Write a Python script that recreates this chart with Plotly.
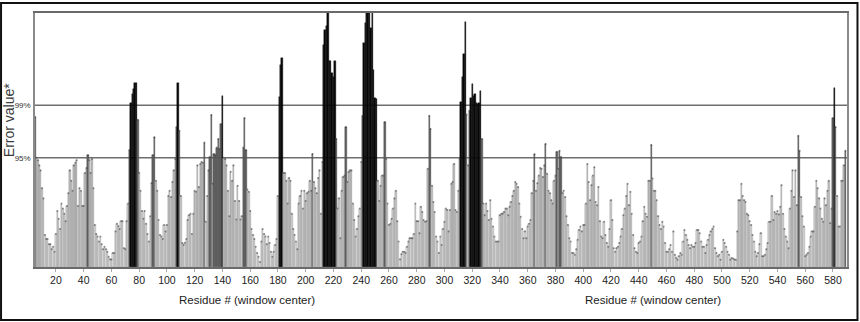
import plotly.graph_objects as go

# ---- data ----
first_residue = 5
error_values = [
    59, 43, 42, 40, 38, 31, 27, 12.6, 11, 11,
    9, 9, 7, 8, 6, 13, 22, 19, 15, 25,
    23, 21, 18, 24, 29, 38, 34, 30, 40, 41,
    42, 24, 31, 30, 24, 24, 37, 39, 44, 42,
    37, 42.5, 31, 16.5, 13, 12, 10, 12, 9, 7,
    8, 7, 6, 4, 3, 3, 5.5, 5.5, 14, 17,
    16, 15, 18, 18, 7.4, 7, 18, 25, 46, 64.5,
    68, 70, 72.5, 72.5, 58, 37, 30, 22, 19, 22,
    17, 13, 10, 20, 33, 44, 51, 34, 30, 18.5,
    12.6, 12, 11, 16.5, 14, 16.5, 28, 30, 27.6, 33.5,
    38, 42.5, 55, 72.5, 53.6, 28, 9.4, 8.7, 9.5, 11,
    18.5, 20.4, 21, 13, 21, 30, 29.6, 40, 31.5, 40.6,
    41.3, 41, 49, 17.8, 28, 38, 43.2, 59.8, 32.8, 44.5,
    43.9, 47, 50.4, 46.5, 56.2, 67.3, 43, 42.5, 40, 30,
    20, 37.5, 34, 40, 26, 18.7, 32, 26, 18.7, 20,
    47, 58.6, 46, 30.5, 29.6, 22, 15, 12.6, 11, 8,
    5.5, 4, 2, 10, 15, 13, 12, 9, 12, 9.4,
    6, 4, 6, 8.7, 11, 28, 67, 79.6, 82.4, 37,
    37, 34, 25, 35, 34, 21, 15, 12.6, 10, 7,
    25, 28, 30, 23, 30, 26, 29, 29.6, 34, 30,
    44.5, 33.5, 31, 29, 35, 38, 21, 41.3, 87.5, 93.4,
    95, 104, 81, 81, 76.4, 75, 81, 50.4, 23, 27,
    11.3, 30, 35.4, 36, 55, 33.5, 37.4, 38, 38, 25,
    18.5, 12, 15, 20, 23, 41.3, 59.5, 88, 96, 104,
    104, 104, 94, 104, 77.7, 66.7, 66, 34, 26, 32,
    36, 36, 57, 42.5, 25, 16.5, 17, 19, 23, 27,
    30, 18, 10, 3, 5, 6, 6, 5.5, 8, 10,
    11.3, 11.3, 11.3, 13, 25, 18, 18, 13.3, 23.7, 21.7,
    18.5, 17.8, 18, 38.7, 59.5, 54.3, 32, 25.6, 21.7, 12,
    10, 5.5, 12, 8.7, 15, 17.8, 23, 22.4, 14, 22.4,
    32.8, 33.5, 40.6, 22.4, 21.7, 30, 42.5, 65, 75, 84,
    96.6, 60, 40, 61.5, 66.7, 72, 67.3, 68, 64.5, 64,
    64.5, 69.3, 50.4, 25, 20.4, 25, 22, 18.5, 26.3, 19,
    15.9, 12, 10, 10, 10, 20.4, 21, 21, 21.7, 23,
    23, 20.4, 23.7, 25.6, 28, 30, 33.5, 32.8, 31.5, 25,
    19.8, 15, 11.3, 14, 11.3, 15.9, 17, 18.5, 29, 34,
    44.3, 30, 33, 36, 39, 38.7, 35.4, 40, 48.4, 36.7,
    30, 29, 26.3, 25, 34, 36, 45.4, 38.7, 45.8, 43.2,
    29, 30, 27.6, 20, 16.5, 11.3, 10, 5.5, 5.5, 4.8,
    7, 10.7, 14.6, 15.9, 14, 16.5, 16.5, 25, 40.6, 33.5,
    26.3, 32.2, 36, 39.3, 25.6, 24.3, 31.5, 18, 12, 11.3,
    17.8, 12.6, 9.4, 8, 15, 26.3, 18.5, 7.4, 6, 7.4,
    8, 9.4, 12, 15, 20.4, 23, 28, 32.8, 24.3, 29.6,
    21, 12.6, 7.4, 6, 5.5, 9.4, 10, 12, 18, 23.7,
    21, 19.8, 34, 34, 48, 34.8, 30, 30, 26.3, 20,
    16.5, 15, 17.8, 15.9, 9.4, 6, 6, 7, 8.7, 6,
    14, 4.8, 3.5, 2.9, 4.2, 5.5, 4.8, 10, 14.6, 12.6,
    10.7, 8.7, 7.4, 8.7, 8, 8, 9.4, 14.6, 14.6, 13.3,
    10, 8, 8, 5.5, 8.7, 10.7, 12.6, 14, 15, 15.9,
    7.4, 5.5, 4.2, 4.8, 2.9, 6, 10.7, 9.4, 8, 6,
    4.8, 2.9, 3.5, 3.3, 3, 2.9, 14, 26.3, 26.3, 32.8,
    28, 26.3, 25.6, 21, 20.4, 18, 16.5, 12.6, 10, 6,
    4.2, 5.5, 9, 13.3, 4.2, 4.2, 4.8, 7, 9.4, 17.8,
    17.8, 28, 18.5, 21.7, 21, 22, 20.7, 23.7, 32.2, 21,
    15, 12, 10, 7.4, 23, 30, 38, 27.6, 38, 24.3,
    51.7, 45.8, 27.6, 20, 15.9, 4.2, 4.8, 5.5, 8, 12,
    14, 14, 23.7, 34, 31, 27, 23, 19, 17.8, 27,
    24.3, 30, 34, 17.2, 23, 58.6, 70.6, 55, 28, 15.9,
    15.9, 34, 34, 40, 45.8,
]
residues = list(range(first_residue, first_residue + len(error_values)))

threshold_95 = 43.0
threshold_99 = 63.7
threshold_labels = ["95%", "99%"]
x_tick_values = list(range(20, 600, 20))
x_title = "Residue # (window center)"
y_title = "Error value*"

# ---- styling derived from values ----
fill_colors, line_colors = [], []
for v in error_values:
    if v > threshold_99:
        fill_colors.append("#080808"); line_colors.append("#080808")
    elif v > threshold_95:
        fill_colors.append("#606060"); line_colors.append("#4a4a4a")
    else:
        g = int(round(228 - 1.15 * v))
        fill_colors.append(f"rgb({g},{g},{g})"); line_colors.append("#9a9a9a")

dot_x = [r for r, v in zip(residues, error_values) if v <= threshold_99]
dot_y = [v for v in error_values if v <= threshold_99]

fig = go.Figure()
fig.add_trace(go.Bar(
    x=residues, y=error_values,
    marker=dict(color=fill_colors, line=dict(color=line_colors, width=0.4)),
    width=1.0, showlegend=False, hoverinfo="x+y",
))
fig.add_trace(go.Scatter(
    x=dot_x, y=dot_y, mode="markers",
    marker=dict(size=2, color="#3a3a3a", opacity=0.5),
    showlegend=False, hoverinfo="skip",
))

W, H = 860, 322
L, R, T, B = 35, 12, 11, 55
pw, ph = W - L - R, H - T - B

def px_x(p):
    return (p - L) / pw

def px_y(p):
    return (H - B - p) / ph

sans = "Liberation Sans, Arial, sans-serif"

shapes = [
    dict(type="line", xref="paper", yref="y", x0=0, x1=1, y0=threshold_95, y1=threshold_95,
         line=dict(color="#6e6e6e", width=1.5), layer="below"),
    dict(type="line", xref="paper", yref="y", x0=0, x1=1, y0=threshold_99, y1=threshold_99,
         line=dict(color="#6e6e6e", width=1.5), layer="below"),
    dict(type="rect", xref="paper", yref="paper",
         x0=px_x(1), x1=px_x(858.5), y0=px_y(320.5), y1=px_y(1),
         line=dict(color="#111111", width=2), fillcolor="rgba(0,0,0,0)", layer="above"),
]

annotations = [
    dict(text=y_title, xref="paper", yref="paper", x=px_x(9), y=px_y(119),
         textangle=-90, showarrow=False, xanchor="center", yanchor="middle",
         font=dict(family=sans, size=14, color="#3a3a3a")),
    dict(text=x_title, xref="paper", yref="paper", x=px_x(247), y=px_y(300),
         showarrow=False, xanchor="center", yanchor="middle",
         font=dict(family=sans, size=11.5, color="#222")),
    dict(text=x_title, xref="paper", yref="paper", x=px_x(654), y=px_y(300),
         showarrow=False, xanchor="center", yanchor="middle",
         font=dict(family=sans, size=11.5, color="#222")),
]

fig.update_layout(
    width=W, height=H,
    margin=dict(l=L, r=R, t=T, b=B, pad=0),
    paper_bgcolor="white", plot_bgcolor="white",
    bargap=0, barmode="overlay",
    shapes=shapes, annotations=annotations,
    xaxis=dict(
        range=[4.9, 590.1], tickmode="array", tickvals=x_tick_values,
        ticktext=[str(v) for v in x_tick_values],
        ticks="outside", ticklen=3, tickcolor="#aaa",
        tickfont=dict(family=sans, size=10.5, color="#222"),
        showgrid=False, zeroline=False,
        showline=True, linecolor="#6a6a6a", linewidth=1.5, mirror=True,
    ),
    yaxis=dict(
        range=[0, 100], tickmode="array", tickvals=[threshold_95, threshold_99],
        ticktext=threshold_labels, ticks="", ticklabelstandoff=1,
        tickfont=dict(family=sans, size=8, color="#333"),
        showgrid=False, zeroline=False,
        showline=True, linecolor="#8a8a8a", linewidth=1.5, mirror=True,
    ),
)

fig.write_html("out.html")
